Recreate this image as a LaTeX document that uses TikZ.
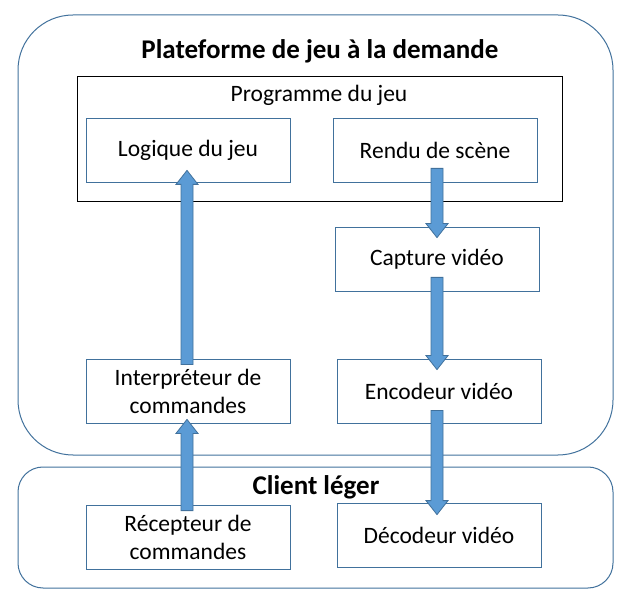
\documentclass[tikz,border=0pt]{standalone}
\usepackage{fontspec}
\setmainfont{Carlito}
\usetikzlibrary{calc}
\definecolor{edge}{HTML}{41719C}
\definecolor{afill}{HTML}{5B9BD5}
\tikzset{
 frame/.style={draw=edge,line width=1pt},
 box/.style={draw=edge,line width=0.8pt,fill=white,minimum width=204pt,minimum height=64pt,align=center,font=\fontsize{23.5}{28}\selectfont,inner sep=2pt},
 barrow/.style={fill=afill,draw=edge,line width=0.8pt}
}
\newcommand{\blockarrow}[2]{%
 \draw[barrow] ($(#1)!6pt!90:(#2)$) -- ($($(#2)!14pt!(#1)$)!6pt!-90:(#1)$) -- ($($(#2)!14pt!(#1)$)!11pt!-90:(#1)$) -- (#2) -- ($($(#2)!14pt!(#1)$)!11pt!90:(#1)$) -- ($($(#2)!14pt!(#1)$)!6pt!90:(#1)$) -- ($(#1)!6pt!-90:(#2)$) -- cycle;}
\begin{document}
\begin{tikzpicture}[x=1pt,y=-1pt]
\useasboundingbox (0,0) rectangle (633,599);
\draw[frame,rounded corners=55pt] (18,15) rectangle (613,455);
\draw[frame,rounded corners=25pt] (18,467) rectangle (613,588);
\node[font=\fontsize{27}{32}\selectfont\bfseries] (t1) at (320,51) {Plateforme de jeu à la demande};
\node[font=\fontsize{27}{32}\selectfont\bfseries] (t2) at (316,487) {Client léger};
\draw[line width=0.8pt] (77,76) rectangle (562,201);
\node[font=\fontsize{23.5}{28}\selectfont] (pg) at (319,95) {Programme du jeu};
\node[box] (log) at (188,150) {Logique du jeu};
\node[box] (ren) at (435,150) {Rendu de scène};
\node[box] (cap) at (437,259) {Capture vidéo};
\node[box] (int) at (188,391) {Interpréteur de\\commandes};
\node[box] (enc) at (439,391) {Encodeur vidéo};
\node[box] (rec) at (188,537) {Récepteur de\\commandes};
\node[box] (dec) at (439,535) {Décodeur vidéo};
\coordinate (a1) at ($(ren.south)+(2,-14)$);
\coordinate (a2) at ($(cap.north)+(0,11)$);
\blockarrow{a1}{a2}
\coordinate (b1) at ($(cap.south)+(0,-14)$);
\coordinate (b2) at ($(enc.north)+(-2,11)$);
\blockarrow{b1}{b2}
\coordinate (c1) at ($(enc.south)+(-2,-13)$);
\coordinate (c2) at ($(dec.north)+(-2,12)$);
\blockarrow{c1}{c2}
\coordinate (d1) at ($(int.north)+(-1,6)$);
\coordinate (d2) at ($(log.south)+(-1,-12)$);
\blockarrow{d1}{d2}
\coordinate (e1) at ($(rec.north)+(-1,6)$);
\coordinate (e2) at ($(int.south)+(-1,-4)$);
\blockarrow{e1}{e2}
\end{tikzpicture}
\end{document}
